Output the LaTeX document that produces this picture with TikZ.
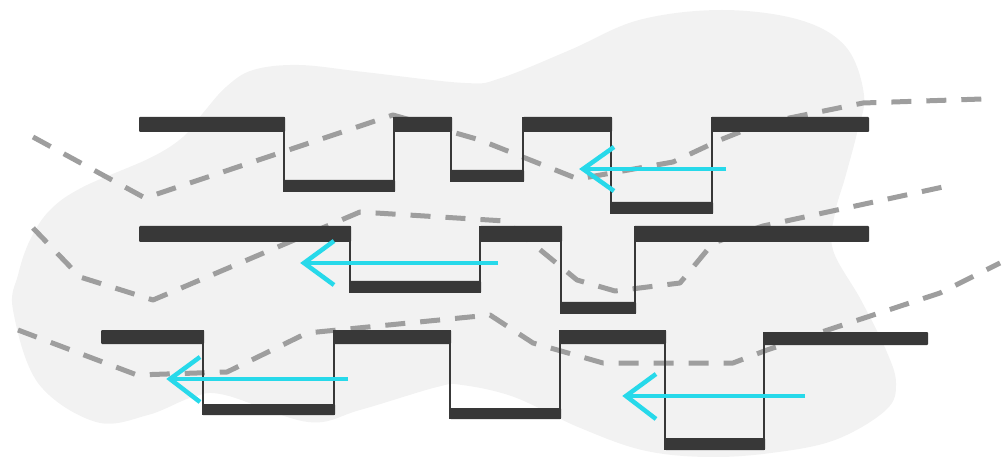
\documentclass[tikz,border=0pt]{standalone}
\usepackage{xcolor}
\usepackage{tikz}
\usetikzlibrary{
  arrows.meta
}
\definecolor{blobgray}{HTML}{F2F2F2}
\definecolor{wavedark}{HTML}{383838}
\definecolor{trailgray}{HTML}{9E9E9E}
\definecolor{flowcyan}{HTML}{27D9EA}

\begin{document}
\begin{tikzpicture}[
      x=1pt, y=-1pt,
      bar/.style={fill=wavedark, rounded corners=1pt},
      edge/.style={draw=wavedark, line width=2pt},
      trail/.style={draw=trailgray, line width=5pt, line join=round,
                    dash pattern=on 20pt off 15pt},
      flow/.style={draw=flowcyan, line width=4.5pt, line join=miter}
  ]
      \useasboundingbox (0,0) rectangle (1002,457);

      % Mancha de fundo
      \fill[blobgray] plot[smooth cycle, tension=0.6] coordinates {
          (13,310) (38,383) (96,422) (148,415) (193,397) (225,395)
          (308,422) (360,410) (437,387) (462,385) (514,397) (578,427)
          (642,450) (706,457) (771,453) (835,440) (886,410) (896,383)
          (886,350) (861,300) (833,250) (835,213) (845,178) (857,133)
          (864,95) (846,47) (800,20) (722,10) (639,20) (570,50)
          (501,78) (465,83) (364,72) (299,65) (253,70) (226,87)
          (203,113) (183,137) (150,158) (83,187) (50,210) (30,240) (18,275)
      };

      % Trilhas tracejadas
      \draw[trail] (33,137) -- (145,198) -- (393,115) -- (480,140) -- (578,179)
          -- (673,162) -- (720,140) -- (760,124) -- (863,103) -- (982,99);
      \draw[trail] (33,228) -- (80,277) -- (153,300) -- (360,212) -- (505,221)
          -- (577,280) -- (615,291) -- (680,283) -- (713,243) -- (763,226) -- (943,187);
      \draw[trail] (18,330) -- (137,375) -- (227,372) -- (307,333) -- (490,315)
          -- (533,343) -- (603,363) -- (733,363) -- (767,350) -- (940,293) -- (1000,263);

      % Onda de cima
      \draw[edge] (284,117) -- (284,192);
      \draw[edge] (394,117) -- (394,192);
      \draw[edge] (451,117) -- (451,182);
      \draw[edge] (523,117) -- (523,182);
      \draw[edge] (611,117) -- (611,214);
      \draw[edge] (712,117) -- (712,214);
      \fill[bar] (139,117) rectangle (285,132);
      \fill[bar] (283,180) rectangle (395,192);
      \fill[bar] (394,117) rectangle (452,132);
      \fill[bar] (450,170) rectangle (524,182);
      \fill[bar] (523,117) rectangle (612,132);
      \fill[bar] (610,202) rectangle (713,214);
      \fill[bar] (711,117) rectangle (869,132);

      % Onda do meio
      \draw[edge] (350,226) -- (350,293);
      \draw[edge] (480,226) -- (480,293);
      \draw[edge] (561,226) -- (561,314);
      \draw[edge] (635,226) -- (635,314);
      \fill[bar] (139,226) rectangle (351,242);
      \fill[bar] (349,281) rectangle (481,293);
      \fill[bar] (480,226) rectangle (562,242);
      \fill[bar] (560,302) rectangle (636,314);
      \fill[bar] (634,226) rectangle (869,242);

      % Onda de baixo
      \draw[edge] (203,330) -- (203,415);
      \draw[edge] (334,330) -- (334,415);
      \draw[edge] (450,330) -- (450,419);
      \draw[edge] (560,330) -- (560,419);
      \draw[edge] (665,330) -- (665,450);
      \draw[edge] (764,332) -- (764,450);
      \fill[bar] (101,330) rectangle (204,344);
      \fill[bar] (202,404) rectangle (335,415);
      \fill[bar] (334,330) rectangle (451,344);
      \fill[bar] (450,408) rectangle (561,419);
      \fill[bar] (560,330) rectangle (666,344);
      \fill[bar] (665,438) rectangle (765,450);
      \fill[bar] (763,332) rectangle (928,345);

      % Setas
      \coordinate (fromA) at (726,169);
      \coordinate (tipA) at (583,169);
      \coordinate (fromB) at (498,263);
      \coordinate (tipB) at (304,263);
      \coordinate (fromC) at (348,379);
      \coordinate (tipC) at (170,379);
      \coordinate (fromD) at (805,396);
      \coordinate (tipD) at (626,396);

      \draw[flow] (fromA) -- (tipA);
      \draw[flow] (tipA) ++(31,-22) -- (tipA) -- ++(31,22);
      \draw[flow] (fromB) -- (tipB);
      \draw[flow] (tipB) ++(30,-22) -- (tipB) -- ++(30,22);
      \draw[flow] (fromC) -- (tipC);
      \draw[flow] (tipC) ++(30,-22) -- (tipC) -- ++(30,23);
      \draw[flow] (fromD) -- (tipD);
      \draw[flow] (tipD) ++(30,-22) -- (tipD) -- ++(30,23);
  \end{tikzpicture}
\end{document}
